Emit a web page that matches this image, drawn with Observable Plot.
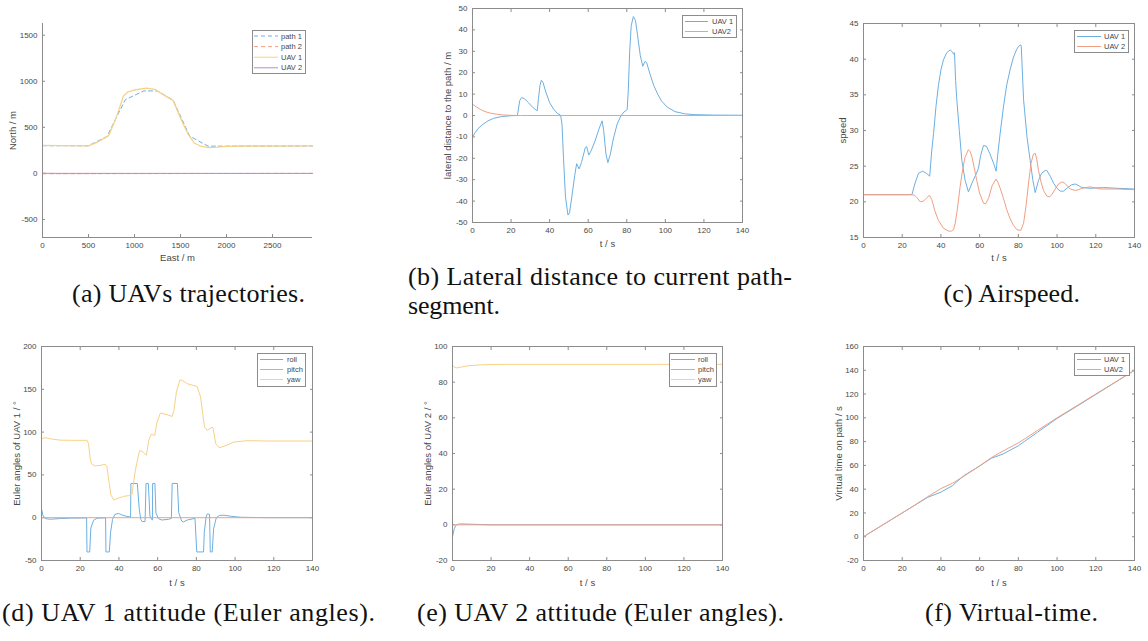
<!DOCTYPE html>
<html><head><meta charset="utf-8">
<script src="https://cdn.jsdelivr.net/npm/d3@7"></script>
<script src="https://cdn.jsdelivr.net/npm/@observablehq/plot@0.6"></script>
<style>
html,body{margin:0;padding:0;background:#fff}
body{width:1148px;height:641px;position:relative;overflow:hidden;font-family:"Liberation Sans",Arial,sans-serif}
.pnl{position:absolute}
#overlay{position:absolute;left:0;top:0;pointer-events:none}
</style></head><body>
<script>
// ---------- (a) trajectories ----------
const path1East  = [0, 500, 700, 900, 1100, 1250, 1420, 1600, 1800, 2935];
const path1North = [300, 300, 400, 800, 895, 895, 795, 405, 295, 298];
const path2East  = [0, 2935];
const path2North = [-4, 0];
const uav1East  = [0, 200, 500, 600, 720, 800, 880, 930, 1000, 1130, 1220, 1300, 1420, 1500, 1580, 1650, 1720, 1800, 1900, 2000, 2200, 2935];
const uav1North = [305, 302, 298, 340, 410, 600, 840, 885, 905, 925, 912, 862, 790, 600, 430, 330, 295, 280, 285, 293, 297, 298];
const uav2East  = [0, 150, 300, 2935];
const uav2North = [2, 0, 0, 0];

// ---------- (b) lateral distance ----------
const latT1 = [0,1.5,3,5,8,11,15,20,23.3,23.8,24.5,25.5,27,29,31,33,33.6,34.2,35,35.7,36.5,38,40,42,44,45.7,46.4,47.2,48.2,49.5,50.3,51.5,53,54,55.3,56.5,58.5,59.2,60.3,61.5,63.5,65.5,67.2,68,69.2,70.2,71.5,73,75,77,78.5,80.2,80.8,81.5,82.3,83.4,84.5,85.5,87,88.3,89.4,90.3,92,94,96,98,101,105,110,115,125,140];
const latV1 = [-10.2,-7.8,-6,-4.4,-2.5,-1.3,-0.5,-0.1,0,3,7,8.4,7.8,6,4,2.5,2.3,8,14,16.5,15.6,11,6,3,1,0.1,-4,-20,-38,-46.5,-45.5,-38,-28,-22.5,-25,-22,-15,-14.5,-18.5,-16.5,-12,-6.5,-2.5,-7,-18,-22,-18,-11,-4,0,1.6,2.7,12,30,42,46.2,44.5,38,28,23,25.3,24.7,19.5,14,10,6.8,3.9,1.8,0.8,0.4,0.2,0.1];
const latT2 = [0,2,4,6,8,10,13,16,20,25,140];
const latV2 = [5.3,4,2.9,2,1.4,1,0.5,0.25,0.08,0,0];

// ---------- (c) airspeed ----------
const spdT1 = [0,25,26.5,28.4,30.5,32.5,34.2,35.2,36.2,37.5,38.7,40,41.3,43,44.8,46,46.6,47,47.6,48.2,49.5,50.8,52.5,54.2,56,58,59.4,60.5,62,63.5,65.2,67.2,68.5,69.5,70.6,72.3,74,75.8,77.5,79,80.1,81.3,81.5,82.7,84.5,86.1,87.5,88.7,90.4,92,93.9,94.7,96.5,98.2,100,101.6,103.3,105.5,107.6,109.4,111,112.8,117,124,131,140];
const spdV1 = [21,21,22.5,24,24.3,24,23.6,27,29.6,33.5,36.3,38.5,39.9,40.9,41.3,41,40.7,40.9,37,34.3,30,25.8,23,21.4,22.6,23.8,24.7,26.5,27.9,27.8,26.8,25.4,24.3,27,29.6,33.3,36.4,38.6,40.3,41.3,41.8,42,41.8,34.3,29,25.8,23,21.3,23,24,24.4,24.4,23.6,22.6,21.9,21.5,21.5,22,22.4,22.5,22.3,22,21.9,22,21.9,21.8];
const spdT2 = [0,25,26.5,27.6,29.3,31,32.8,34.1,35.3,36.8,38.7,41.3,43.9,45.5,46.5,47.4,48.5,49.9,51.2,52.5,54.2,55.2,56,57.2,58.5,60,62,63,64.6,66.5,68.5,69.5,70.5,72.3,74,75.8,77.5,79.2,81.3,82.7,84,85.2,86.5,87.8,88.7,89.5,90.4,91.7,93,94.7,96,97.3,99,100.7,102.5,104,106.8,109.4,111,112.8,117.1,122.3,130.9,140];
const spdV2 = [21,21,20.9,20.6,20,20.1,20.6,20.9,20.3,18.8,17.4,16.3,15.9,15.9,16.1,17,19,22.1,24.5,26.3,27.3,27,26.3,24.8,23,21.2,19.8,19.7,20.5,22.3,23.2,22.7,22,20.5,18.9,17.6,16.7,16.1,16,17,19.5,22.5,25.4,26.7,26.8,26,24.4,22.8,21.6,20.8,20.7,21,21.8,22.5,22.8,22.6,21.8,21.6,21.7,21.9,22.1,21.8,21.8,21.7];

// ---------- (d) UAV 1 attitude ----------
const yaw1T = [0,1.9,5,9.7,15,23.5,24.3,25.1,25.8,27.8,30.4,33,33.8,35,35.8,37.3,39,42.5,45.1,46.8,47.5,48.5,50,50.8,52.5,54.2,55.4,56.6,58.5,59.7,61.4,63.2,67.5,68.4,69.7,71.5,72.7,75.3,80.4,82.2,84.2,85.6,88.2,88.7,90,91.7,94.3,99.4,106.3,116.7,140];
const yaw1V = [92.3,93.5,92,90.6,90.4,90.4,86.5,70,63,60.5,61.2,62.4,59.3,40,27,20.6,22.3,25,25.8,27.4,40,55.4,72,78.6,76.7,72.9,90.4,97.4,96.2,111.7,122.2,121.5,118.3,125.3,146.7,161.1,160.3,156.5,153.3,140.9,105.9,102,105.9,104,86.5,81.8,83.4,88.4,90,89.6,89.6];
const roll1T = [0,0.7,1.9,4.5,9.7,15,23.3,23.5,24.9,25.5,26.9,28.7,33.1,33.3,35,35.7,36.7,37.9,39.7,41.4,44,46,46.2,49.5,50.5,51.3,52,53.5,54,55.2,56,56.9,57.3,57.4,58.6,59.1,60.4,62.1,65.6,67.1,67.5,70.2,70.9,72.4,73.3,75.3,79.3,80.2,83.7,84.1,85.1,85.8,86.8,87.2,88.2,88.9,90.3,92,94.3,97.7,102.9,116.7,140];
const roll1V = [10.6,3,-1,-1.8,-1,-0.5,-0.3,-40,-40,-12,-3,-0.5,-0.2,-40,-40,-17,-2,3.8,5,3.4,1.5,0.8,40,40,10,-2,-4.5,-4.5,40,40,2,-2,-2.7,40,40,5.7,-1.1,-2.7,-1.9,-0.8,40,40,5.7,-3.8,-5,-2.7,-0.8,-40,-40,-17,1.9,4.6,3.8,-40,-40,-13,0,2.7,2.9,1.7,0.5,0,0];
const pitch1T = [0,140];
const pitch1V = [0,0];

// ---------- (e) UAV 2 attitude ----------
const yaw2T = [0,1,2,4.3,8,14.7,20,30,140];
const yaw2V = [89.3,88.5,88,88.4,89.2,89.7,89.9,90,90];
const roll2T = [0,0.5,0.9,1.7,2.6,4.3,8,11,20,140];
const roll2V = [-6.9,-4,-2.2,-0.4,0.3,0.5,0.4,0.3,0,0];
const pitch2T = [0,140];
const pitch2V = [0,0];

// ---------- (f) virtual time ----------
const vtT1 = [0,25,33,40,46,48,52,60,66,72,80,83,90,100,110,140];
const vtV1 = [0,25,33,37.5,43,46,51.5,59.5,66,69.5,76.5,80,88,99.5,109.5,140];
const vtT2 = [0,25,33,40,46,50,60,66,72,80,83,90,100,140];
const vtV2 = [0,25,33.5,40.5,45,49,59.5,66.5,72,79,82,89.5,100,140];

// ticks
const tTicks = [0,20,40,60,80,100,120,140];
const eastTicks = [0,500,1000,1500,2000,2500];
const northTicks = [-500,0,500,1000,1500];
const latTicks = [-50,-40,-30,-20,-10,0,10,20,30,40,50];
const spdTicks = [15,20,25,30,35,40,45];
const eul1Ticks = [-50,0,50,100,150,200];
const eul2Ticks = [-20,0,20,40,60,80,100];
const vtTicks = [-20,0,20,40,60,80,100,120,140,160];

// colours
const BLUE = "#6cb0e2", ORANGE = "#f09f82", YELLOW = "#f7d286", PURPLE = "#b78ccb";
const AX = "#8c8c8c", TXT = "#474747";

const zip = (xs, ys) => xs.map((x, i) => ({x, y: ys[i]}));

function panel(cfg) {
  const [x0, y0, x1, y1] = cfg.box;
  const mL = 60, mT = 14, mR = 14, mB = 40;
  const marks = [];
  const tf = d => String(d);
  marks.push(Plot.axisX({anchor: "bottom", ticks: cfg.xTicks, tickSize: -3, tickFormat: () => "", stroke: AX, label: null}));
  marks.push(Plot.axisY({anchor: "left", ticks: cfg.yTicks, tickSize: -3, tickFormat: () => "", stroke: AX, label: null}));
  if (cfg.boxed) {
    marks.push(Plot.axisX({anchor: "top", ticks: cfg.xTicks, tickSize: -3, tickFormat: () => "", stroke: AX, label: null}));
    marks.push(Plot.axisY({anchor: "right", ticks: cfg.yTicks, tickSize: -3, tickFormat: () => "", stroke: AX, label: null}));
  }
  marks.push(Plot.axisX({anchor: "bottom", ticks: cfg.xTicks, tickSize: 0, tickPadding: 5, tickFormat: tf, fontSize: 8, fill: TXT, label: null}));
  marks.push(Plot.axisY({anchor: "left", ticks: cfg.yTicks, tickSize: 0, tickPadding: 5, tickFormat: tf, fontSize: 8, fill: TXT, label: null}));
  for (const s of cfg.series) {
    marks.push(Plot.line(zip(s.x, s.y), {x: "x", y: "y", stroke: s.color, strokeWidth: s.w || 1, strokeDasharray: s.dash || null}));
  }
  if (cfg.boxed) marks.push(Plot.frame({stroke: AX}));
  else {
    marks.push(Plot.ruleX([cfg.xDomain[0]], {stroke: AX}));
    marks.push(Plot.ruleY([cfg.yDomain[0]], {stroke: AX}));
  }
  marks.push(Plot.text([cfg.yLabel], {text: d => d, frameAnchor: "left", dx: -(x0 - cfg.yLabelX), rotate: -90, textAnchor: "middle", lineAnchor: "middle", fontSize: 9.5, fill: TXT}));
  marks.push(Plot.text([cfg.xLabel], {text: d => d, frameAnchor: "bottom", dy: cfg.xLabelY - y1, textAnchor: "middle", lineAnchor: "middle", fontSize: 9.5, fill: TXT}));

  const svg = Plot.plot({
    width: (x1 - x0) + mL + mR,
    height: (y1 - y0) + mT + mB,
    marginLeft: mL, marginRight: mR, marginTop: mT, marginBottom: mB,
    x: {domain: cfg.xDomain},
    y: {domain: cfg.yDomain},
    style: {background: "transparent", overflow: "visible", fontFamily: '"Liberation Sans", Arial, sans-serif'},
    marks
  });
  const div = document.createElement("div");
  div.className = "pnl";
  div.style.left = (x0 - mL) + "px";
  div.style.top = (y0 - mT) + "px";
  div.appendChild(svg);
  document.body.appendChild(div);
}

panel({box: [42, 23, 312, 237], xDomain: [0, 2935], yDomain: [-696, 1627], xTicks: eastTicks, yTicks: northTicks, boxed: false,
  xLabel: "East / m", xLabelY: 257.5, yLabel: "North / m", yLabelX: 12,
  series: [
    {x: path1East, y: path1North, color: BLUE, dash: "4,3"},
    {x: path2East, y: path2North, color: ORANGE, dash: "4,3"},
    {x: uav1East, y: uav1North, color: YELLOW, w: 1.3},
    {x: uav2East, y: uav2North, color: PURPLE}
  ]});
panel({box: [472, 8, 742, 222], xDomain: [0, 140], yDomain: [-50, 50], xTicks: tTicks, yTicks: latTicks, boxed: true,
  xLabel: "t / s", xLabelY: 243.5, yLabel: "lateral distance to the path / m", yLabelX: 447.5,
  series: [
    {x: latT1, y: latV1, color: BLUE},
    {x: latT2, y: latV2, color: ORANGE}
  ]});
panel({box: [863, 23, 1134, 237], xDomain: [0, 140], yDomain: [15, 45], xTicks: tTicks, yTicks: spdTicks, boxed: true,
  xLabel: "t / s", xLabelY: 257.5, yLabel: "speed", yLabelX: 842.5,
  series: [
    {x: spdT1, y: spdV1, color: BLUE},
    {x: spdT2, y: spdV2, color: ORANGE}
  ]});
panel({box: [41, 346, 312, 560], xDomain: [0, 140], yDomain: [-50, 200], xTicks: tTicks, yTicks: eul1Ticks, boxed: true,
  xLabel: "t / s", xLabelY: 582, yLabel: "Euler angles of UAV 1 / °", yLabelX: 16,
  series: [
    {x: roll1T, y: roll1V, color: BLUE},
    {x: pitch1T, y: pitch1V, color: ORANGE},
    {x: yaw1T, y: yaw1V, color: YELLOW}
  ]});
panel({box: [452, 346, 722, 560], xDomain: [0, 140], yDomain: [-20, 100], xTicks: tTicks, yTicks: eul2Ticks, boxed: true,
  xLabel: "t / s", xLabelY: 582, yLabel: "Euler angles of UAV 2 / °", yLabelX: 427.5,
  series: [
    {x: roll2T, y: roll2V, color: BLUE},
    {x: pitch2T, y: pitch2V, color: ORANGE},
    {x: yaw2T, y: yaw2V, color: YELLOW}
  ]});
panel({box: [863, 346, 1134, 560], xDomain: [0, 140], yDomain: [-20, 160], xTicks: tTicks, yTicks: vtTicks, boxed: true,
  xLabel: "t / s", xLabelY: 582, yLabel: "Virtual time on path / s", yLabelX: 838.5,
  series: [
    {x: vtT1, y: vtV1, color: BLUE},
    {x: vtT2, y: vtV2, color: ORANGE}
  ]});

// ---------- legends and captions (overlay) ----------
const legends = [
  {box: [252, 30, 305, 73], lx: [254, 278], tx: 281, y0: 36, dy: 10.6, rows: [["path 1", BLUE, "4,3"], ["path 2", ORANGE, "4,3"], ["UAV 1", YELLOW, null], ["UAV 2", PURPLE, null]]},
  {box: [682, 15, 736, 37], lx: [685, 708], tx: 712, y0: 21.5, dy: 10, rows: [["UAV 1", BLUE, null], ["UAV2", ORANGE, null]]},
  {box: [1074, 30, 1128, 52], lx: [1077, 1101], tx: 1104, y0: 36.5, dy: 10, rows: [["UAV 1", BLUE, null], ["UAV 2", ORANGE, null]]},
  {box: [257, 353, 305, 386], lx: [260, 283], tx: 287, y0: 359.5, dy: 10, rows: [["roll", BLUE, null], ["pitch", ORANGE, null], ["yaw", YELLOW, null]]},
  {box: [669, 353, 716, 386], lx: [671, 695], tx: 698, y0: 359.5, dy: 10, rows: [["roll", BLUE, null], ["pitch", ORANGE, null], ["yaw", YELLOW, null]]},
  {box: [1074, 353, 1129, 375], lx: [1077, 1101], tx: 1104, y0: 359.5, dy: 10, rows: [["UAV 1", BLUE, null], ["UAV2", ORANGE, null]]}
];
const captions = [
  {text: "(a) UAVs trajectories.", x0: 72, x1: 305, y: 302},
  {text: "(b) Lateral distance to current path-", x0: 408, x1: 792, y: 285},
  {text: "segment.", x0: 408, x1: 500, y: 314},
  {text: "(c) Airspeed.", x0: 943.5, x1: 1080, y: 302},
  {text: "(d) UAV 1 attitude (Euler angles).", x0: 2, x1: 375, y: 621},
  {text: "(e) UAV 2 attitude (Euler angles).", x0: 417, x1: 784, y: 621},
  {text: "(f) Virtual-time.", x0: 925, x1: 1098, y: 621}
];
const NS = "http://www.w3.org/2000/svg";
const ov = document.createElementNS(NS, "svg");
ov.setAttribute("id", "overlay");
ov.setAttribute("width", 1148);
ov.setAttribute("height", 641);
function el(tag, attrs, parent) {
  const e = document.createElementNS(NS, tag);
  for (const k in attrs) e.setAttribute(k, attrs[k]);
  parent.appendChild(e);
  return e;
}
for (const L of legends) {
  const [bx0, by0, bx1, by1] = L.box;
  el("rect", {x: bx0 + 0.5, y: by0 + 0.5, width: bx1 - bx0, height: by1 - by0, fill: "#fff", stroke: AX, "stroke-width": 1}, ov);
  L.rows.forEach((r, i) => {
    const y = L.y0 + i * L.dy;
    const ln = el("line", {x1: L.lx[0], x2: L.lx[1], y1: y, y2: y, stroke: r[1], "stroke-width": 1}, ov);
    if (r[2]) ln.setAttribute("stroke-dasharray", r[2]);
    const t = el("text", {x: L.tx, y: y, "dominant-baseline": "central", "font-size": 7.5, fill: TXT, "font-family": '"Liberation Sans", Arial, sans-serif'}, ov);
    t.textContent = r[0];
  });
}
for (const c of captions) {
  const t = el("text", {x: c.x0, y: c.y, "font-size": 26, fill: "#111", "font-family": '"Liberation Serif", "Times New Roman", serif', textLength: c.x1 - c.x0, lengthAdjust: "spacing"}, ov);
  t.textContent = c.text;
}
document.body.appendChild(ov);
</script>
</body></html>
